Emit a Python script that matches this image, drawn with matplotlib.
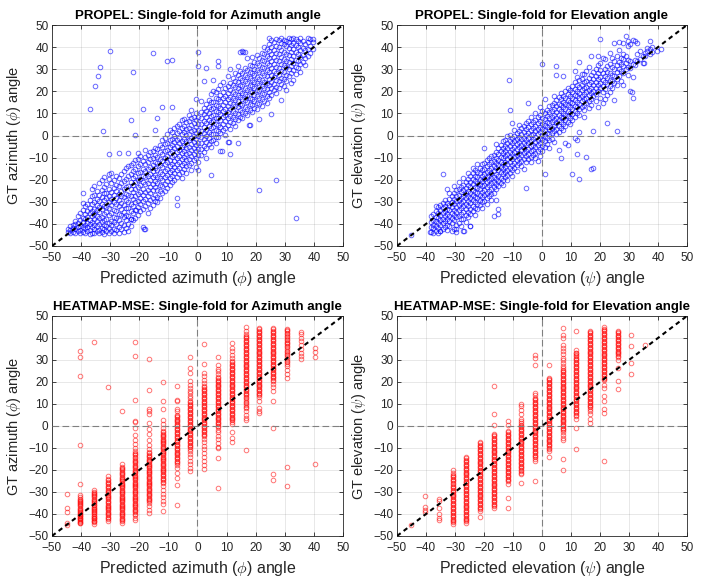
import matplotlib
matplotlib.use('Agg')
import matplotlib.pyplot as plt

plt.rcParams['font.family'] = ['Liberation Sans', 'DejaVu Sans']
plt.rcParams['mathtext.fontset'] = 'cm'

# axis range and ticks
lim = [-50, 50]
ticks = [-50, -40, -30, -20, -10, 0, 10, 20, 30, 40, 50]

# PROPEL azimuth: predicted value -> list of GT values
propel_az = {
    -44.6: [-43.8, -42.5],
    -43.7: [-44.2, -42.9, -41.0],
    -42.9: [-43.5, -41.8, -40.6],
    -42.1: [-44.0, -42.3, -40.1, -38.7],
    -41.2: [-43.1, -41.5, -39.6, -36.2],
    -40.4: [-44.3, -42.8, -40.9, -38.2, -35.0],
    -39.5: [-43.6, -41.2, -39.0, -37.4, -33.8, -30.5, -25.9],
    -38.8: [-44.1, -42.0, -40.3, -37.9, -35.6, -32.1],
    -37.9: [-43.2, -41.6, -39.4, -36.8, -34.0, -30.9],
    -37.1: [-44.4, -42.7, -40.0, -38.1, -35.2, -32.8, -29.4],
    -36.3: [-43.9, -41.3, -39.2, -36.5, -34.1, -31.0, -27.5, -24.0],
    -35.4: [-44.0, -42.2, -40.6, -38.0, -35.7, -33.3, -30.2, -26.8, -22.9],
    -34.6: [-43.4, -41.1, -38.9, -36.4, -33.9, -31.6, -28.8, -25.1],
    -33.8: [-44.2, -42.6, -40.2, -37.5, -34.8, -32.2, -29.7, -27.0, -21.5],
    -32.9: [-43.7, -41.9, -39.3, -36.9, -33.4, -30.8, -27.9, -24.6, -20.3],
    -32.1: [-44.5, -42.4, -40.7, -38.3, -35.5, -31.9, -29.1, -25.8, -23.2, -18.9],
    -31.3: [-43.0, -40.9, -37.8, -34.6, -32.5, -28.3, -26.1, -22.0],
    -30.4: [-44.1, -41.7, -39.5, -36.1, -33.0, -30.0, -27.3, -24.4, -19.6, -17.2, -8.4],
    -29.6: [-43.3, -40.4, -38.6, -35.0, -31.4, -28.7, -25.5, -21.3, -16.8],
    -28.8: [-44.0, -42.1, -39.0, -36.7, -33.8, -29.9, -26.9, -23.6, -20.0],
    -27.9: [-42.8, -40.1, -37.2, -34.3, -31.1, -28.2, -24.9, -22.5, -18.4],
    -27.1: [-43.9, -41.4, -38.2, -35.3, -32.0, -29.4, -26.3, -23.0, -19.1, -7.8],
    -26.3: [-42.5, -39.8, -36.0, -33.2, -30.4, -27.6, -25.0, -21.7, -17.6],
    -25.4: [-43.6, -40.7, -37.0, -34.5, -31.3, -28.0, -24.1, -20.6, -16.1],
    -24.6: [-41.9, -38.4, -35.8, -32.7, -29.0, -26.5, -23.3, -19.8, -14.9],
    -23.8: [-43.2, -39.9, -36.4, -33.0, -30.2, -27.1, -22.8, -18.5, -14.0, -8.1],
    -22.9: [-40.8, -37.6, -34.0, -30.9, -27.4, -24.3, -21.1, -17.3, -13.2, 7.0],
    -22.1: [-38.3, -35.1, -31.8, -28.9, -25.6, -22.4, -19.4, -16.2, -12.5, 28.7],
    -21.3: [-37.4, -33.7, -30.1, -27.2, -24.0, -21.0, -18.1, -15.0, -11.3, 0.3],
    -20.4: [-35.9, -32.4, -29.6, -26.4, -23.1, -20.3, -17.0, -13.9, -10.6, -7.8],
    -19.6: [-34.2, -31.2, -28.4, -25.7, -22.6, -19.5, -16.5, -12.8, -9.4],
    -18.8: [-41.6, -33.1, -29.8, -27.0, -24.2, -21.2, -18.3, -15.1, -11.7, 11.8],
    -17.9: [-42.2, -31.9, -28.6, -25.4, -22.0, -19.0, -16.0, -13.0, -9.9, -6.4],
    -17.1: [-35.0, -30.7, -27.5, -24.6, -21.4, -18.2, -15.3, -12.1, -8.6],
    -16.3: [-32.8, -29.3, -26.0, -23.2, -20.0, -17.2, -14.1, -10.8, -7.5],
    -15.4: [-31.5, -28.1, -24.8, -21.8, -18.7, -15.9, -13.3, -10.2, -6.9, 37.2],
    -14.6: [-29.5, -26.8, -23.5, -20.6, -17.7, -14.7, -11.9, -8.8, -5.6, 2.5],
    -13.8: [-30.3, -27.7, -24.5, -21.5, -18.6, -15.7, -12.6, -9.6, -6.2, 7.8],
    -12.9: [-28.5, -25.2, -22.2, -19.2, -16.4, -13.5, -10.5, -7.4, -4.1],
    -12.1: [-26.2, -23.0, -20.3, -17.4, -14.4, -11.5, -8.4, -5.3, -2.0, 13.0],
    -11.3: [-24.9, -21.9, -19.0, -16.1, -13.0, -10.1, -7.1, -4.0, -1.0],
    -10.4: [-23.6, -20.7, -17.8, -15.0, -12.2, -9.3, -6.5, -3.3, 0.5, 33.7],
    -9.6: [-22.4, -19.3, -16.6, -13.6, -10.9, -8.0, -5.1, -2.2, 2.5],
    -8.8: [-21.1, -18.2, -15.4, -12.7, -9.8, -7.0, -4.3, -1.5, 1.8, 12.7, 34.2],
    -7.9: [-20.0, -17.0, -14.3, -11.4, -8.7, -5.8, -3.0, -0.3, 3.2],
    -7.1: [-31.4, -28.4, -18.6, -15.8, -13.1, -10.3, -7.6, -4.8, -2.0, 1.0, 4.4],
    -6.3: [-17.6, -14.8, -12.0, -9.2, -6.4, -3.6, -0.9, 1.9, 5.3],
    -5.4: [-19.4, -16.3, -13.4, -10.7, -7.9, -5.0, -2.3, 0.6, 3.6, 6.8],
    -4.6: [-15.2, -12.5, -9.7, -7.0, -4.2, -1.4, 1.4, 4.3, 7.5],
    -3.8: [-17.0, -14.0, -11.1, -8.3, -5.6, -2.7, 0.2, 3.1, 6.0],
    -2.9: [-13.3, -10.6, -7.8, -5.0, -2.1, 0.8, 3.6, 6.5, 9.2],
    -2.1: [-15.8, -12.4, -9.4, -6.6, -3.8, -1.0, 1.9, 4.8, 8.0, 11.5],
    -1.3: [-11.2, -8.5, -5.7, -2.9, -0.1, 2.7, 5.5, 8.6],
    -0.4: [-14.1, -10.0, -7.2, -4.4, -1.6, 1.2, 4.0, 7.0, 10.3, 16.3],
    0.1: [-15.6, -12.0, -8.9, -6.0, -3.2, -0.4, 2.4, 5.3, 8.2, 31.6, 37.6],
    1.3: [-9.0, -6.2, -3.4, -0.6, 2.2, 5.0, 7.8, 10.7, 15.8],
    2.1: [-7.5, -4.6, -1.8, 1.0, 3.9, 6.7, 9.6, 12.5, 24.7],
    2.9: [-10.4, -5.8, -3.0, -0.2, 2.6, 5.5, 8.4, 11.2, 14.3, 30.7],
    3.8: [-4.0, -1.2, 1.6, 4.4, 7.2, 10.1, 13.0, 16.2],
    4.6: [-17.9, -5.2, -2.3, 0.5, 3.3, 6.1, 9.0, 11.9, 15.0, 18.6],
    5.4: [-1.9, 0.9, 3.7, 6.6, 9.4, 12.3, 15.3, 20.1, 25.1],
    6.3: [-3.3, -0.5, 2.3, 5.2, 8.0, 10.9, 13.8, 16.8, 19.5],
    7.1: [-0.8, 2.0, 4.8, 7.7, 10.5, 13.4, 16.4, 21.0, 31.6, 33.9],
    7.9: [-6.9, 1.0, 3.9, 6.8, 9.6, 12.5, 15.5, 18.3, 22.8],
    8.8: [2.6, 5.4, 8.3, 11.1, 14.0, 16.9, 19.9, 24.2],
    9.6: [0.4, 3.5, 6.5, 9.4, 12.2, 15.1, 18.0, 21.4],
    10.4: [-2.8, 4.9, 7.7, 10.6, 13.5, 16.3, 19.3, 22.3, 26.8],
    11.3: [-8.4, 3.0, 6.1, 9.0, 11.9, 14.8, 17.6, 20.6, 23.7, 30.1],
    12.1: [5.6, 8.4, 11.3, 14.2, 17.0, 19.9, 22.9, 25.9],
    12.9: [4.3, 7.4, 10.3, 13.2, 16.0, 18.9, 21.9, 24.8, 28.4],
    13.8: [-3.2, 6.9, 9.8, 12.7, 15.5, 18.4, 21.3, 24.3, 27.2, 31.4],
    14.6: [8.6, 11.5, 14.4, 17.3, 20.1, 23.0, 26.0, 29.1, 37.6],
    15.4: [7.9, 10.8, 13.6, 16.5, 19.4, 22.3, 25.2, 28.3, 38.3],
    16.3: [10.1, 13.0, 15.9, 18.7, 21.6, 24.5, 27.5, 30.6, 37.9],
    17.1: [9.2, 12.1, 15.0, 17.9, 20.8, 23.7, 26.7, 29.8, 34.9],
    17.9: [4.8, 11.4, 14.3, 17.2, 20.0, 22.9, 25.9, 28.9, 32.1],
    18.8: [10.7, 13.7, 16.6, 19.5, 22.4, 25.3, 28.3, 31.4, 35.6],
    19.6: [12.6, 15.5, 18.4, 21.3, 24.2, 27.2, 30.2, 33.3],
    20.4: [11.8, 14.8, 17.8, 20.7, 23.6, 26.6, 29.6, 32.8, 36.4],
    21.3: [-24.7, 7.4, 14.2, 17.1, 20.0, 22.9, 25.8, 28.8, 31.8, 35.0],
    22.1: [13.4, 16.4, 19.3, 22.2, 25.1, 28.1, 31.1, 34.2, 37.5],
    22.9: [15.6, 18.6, 21.5, 24.4, 27.4, 30.4, 33.5, 36.8, 40.1],
    23.8: [14.9, 17.9, 20.9, 23.8, 26.8, 29.8, 32.9, 36.1, 39.3],
    24.6: [16.9, 19.9, 22.8, 25.8, 28.8, 31.8, 34.9, 38.2, 41.5, 44.0],
    25.4: [9.8, 18.4, 21.4, 24.4, 27.4, 30.4, 33.5, 36.7, 40.0, 43.2],
    26.3: [20.4, 23.4, 26.4, 29.4, 32.5, 35.6, 38.8, 42.1],
    27.1: [-20.1, 19.1, 22.1, 25.1, 28.1, 31.2, 34.3, 37.5, 40.7, 43.6],
    27.9: [21.6, 24.6, 27.6, 30.7, 33.8, 37.0, 40.2, 43.0],
    28.8: [15.9, 23.2, 26.2, 29.3, 32.4, 35.5, 38.7, 41.8, 44.2],
    29.6: [22.5, 25.5, 28.6, 31.7, 34.8, 38.0, 41.2, 43.4],
    30.4: [20.8, 24.5, 27.6, 30.8, 33.9, 37.1, 40.4, 42.9],
    31.3: [26.9, 30.0, 33.2, 36.4, 39.6, 42.4, 44.1],
    32.1: [23.6, 28.3, 31.4, 34.6, 37.8, 41.0, 43.7],
    32.9: [25.2, 29.7, 32.9, 36.1, 39.3, 42.0, 44.3],
    33.8: [-37.2, 27.8, 31.0, 34.3, 37.6, 40.8, 43.5],
    34.6: [30.5, 33.7, 36.9, 40.1, 42.6],
    35.4: [28.9, 32.3, 35.6, 38.9, 41.9, 44.0],
    36.3: [33.2, 36.5, 39.7, 42.8],
    37.1: [32.0, 35.3, 38.5, 41.4],
    37.9: [36.0, 39.2, 42.3, 44.1],
    38.8: [37.4, 40.6, 43.8],
    39.6: [39.0, 42.5, 43.9],
}
propel_az_out = {
    -29.9: [38.3], -33.6: [31.2], -34.3: [26.8], -35.2: [22.6], -37.0: [12.1],
    -32.3: [2.2], -18.4: [-42.2], 15.8: [37.9], 17.6: [4.9], 10.7: [-2.8],
    8.5: [-6.9], -21.0: [-33.7], -22.7: [-38.0],
}

# PROPEL elevation
propel_el = {
    -38.3: [-43.6, -41.2, -39.0, -36.5],
    -37.5: [-44.1, -42.0, -40.3, -38.2, -35.6],
    -36.7: [-43.3, -40.8, -38.8, -36.9, -34.1, -31.7],
    -35.9: [-44.3, -41.9, -39.6, -37.3, -35.2, -32.5],
    -35.1: [-43.0, -40.5, -38.4, -36.0, -33.6, -31.3],
    -34.3: [-42.2, -39.7, -37.6, -35.0, -32.8, -30.4, -17.4],
    -33.5: [-41.5, -38.9, -36.6, -34.3, -31.9, -29.4],
    -32.7: [-42.8, -40.3, -37.9, -35.5, -33.1, -30.7, -24.2],
    -31.9: [-41.0, -38.5, -36.2, -33.8, -31.4, -28.9, -26.1],
    -31.1: [-43.4, -39.8, -37.2, -34.9, -32.4, -30.0, -27.6],
    -30.3: [-42.1, -38.3, -35.9, -33.5, -31.1, -28.6, -25.9, -22.8],
    -29.5: [-43.8, -40.6, -37.0, -34.6, -32.2, -29.8, -27.3, -24.7],
    -28.7: [-39.4, -36.3, -33.9, -31.5, -29.1, -26.7, -24.0, -21.2],
    -27.9: [-41.1, -38.0, -35.3, -32.9, -30.5, -28.1, -25.6, -23.1],
    -27.1: [-43.2, -37.6, -34.4, -32.0, -29.6, -27.2, -24.8, -22.3, -19.4],
    -26.3: [-39.0, -35.8, -33.2, -30.8, -28.4, -26.0, -23.6, -21.0],
    -25.5: [-37.1, -34.5, -32.1, -29.7, -27.3, -24.9, -22.5, -19.9, -16.8],
    -24.7: [-41.0, -35.6, -33.1, -30.7, -28.3, -25.9, -23.5, -21.1, -18.2],
    -23.9: [-34.2, -31.7, -29.3, -26.9, -24.5, -22.1, -19.7, -17.0, -14.5],
    -23.1: [-36.0, -32.8, -30.3, -27.9, -25.5, -23.1, -20.7, -18.3, -15.6],
    -22.3: [-33.4, -30.9, -28.5, -26.1, -23.7, -21.3, -18.9, -16.4, -13.0],
    -21.5: [-31.6, -29.1, -26.7, -24.3, -21.9, -19.5, -17.1, -14.7],
    -20.7: [-32.7, -30.2, -27.8, -25.4, -23.0, -20.6, -18.2, -15.8, -12.9],
    -19.9: [-29.6, -27.1, -24.7, -22.3, -19.9, -17.5, -15.1, -12.4, -5.8],
    -19.1: [-30.8, -28.3, -25.9, -23.5, -21.1, -18.7, -16.3, -13.9, -11.0],
    -18.3: [-27.4, -25.0, -22.6, -20.2, -17.8, -15.4, -13.0, -10.3],
    -17.5: [-29.0, -26.5, -24.1, -21.7, -19.3, -16.9, -14.5, -12.0, -9.2],
    -16.7: [-36.2, -25.9, -23.4, -21.0, -18.6, -16.2, -13.8, -11.4, -8.7],
    -15.9: [-29.3, -24.4, -22.0, -19.6, -17.2, -14.8, -12.4, -10.0, -7.3, -3.9],
    -15.1: [-35.4, -33.4, -22.9, -20.5, -18.1, -15.7, -13.3, -10.9, -8.5, -5.6],
    -14.3: [-21.5, -19.1, -16.7, -14.3, -11.9, -9.5, -7.1, -4.2],
    -13.5: [-22.6, -20.0, -17.6, -15.2, -12.8, -10.4, -8.0, -5.5, -2.7],
    -12.7: [-19.0, -16.6, -14.2, -11.8, -9.4, -7.0, -4.6, -1.9],
    -11.9: [-20.3, -17.8, -15.4, -13.0, -10.6, -8.2, -5.8, -3.3, -0.4],
    -11.1: [-16.9, -14.5, -12.1, -9.7, -7.3, -4.9, -2.5, 0.3, 11.4],
    -10.3: [-18.2, -15.6, -13.2, -10.8, -8.4, -6.0, -3.6, -1.1, 5.6],
    -9.5: [-14.7, -12.3, -9.9, -7.5, -5.1, -2.7, -0.2, 2.4],
    -8.7: [-16.1, -13.5, -11.1, -8.7, -6.3, -3.9, -1.5, 1.1],
    -7.9: [-12.6, -10.2, -7.8, -5.4, -3.0, -0.6, 2.0, 4.6],
    -7.1: [-14.0, -11.4, -9.0, -6.6, -4.2, -1.8, 0.7, 3.3],
    -6.3: [-15.3, -10.5, -8.1, -5.7, -3.3, -0.9, 1.6, 4.2],
    -5.5: [-23.9, -12.2, -9.3, -6.9, -4.5, -2.1, 0.4, 2.9, 5.8],
    -4.7: [-10.8, -8.4, -6.0, -3.6, -1.2, 1.3, 3.8, 6.7, 14.6],
    -3.9: [-12.0, -9.6, -7.2, -4.8, -2.4, 0.1, 2.6, 5.2, 8.3],
    -3.1: [-8.9, -6.5, -4.1, -1.7, 0.8, 3.3, 5.9],
    -2.3: [-10.1, -7.7, -5.3, -2.9, -0.5, 2.0, 4.5, 7.2, 10.4],
    -1.5: [-11.7, -6.8, -4.4, -2.0, 0.5, 3.0, 5.5, 8.3],
    -0.7: [-9.1, -5.9, -3.5, -1.1, 1.4, 3.9, 6.5, 9.4, 12.7],
    0.1: [-7.2, -4.7, -2.2, 0.3, 2.8, 5.3, 8.0, 11.3, 32.2],
    0.9: [-17.4, -5.0, -2.6, -0.1, 2.4, 4.9, 7.5, 10.2, 16.4],
    1.7: [-3.8, -1.3, 1.2, 3.7, 6.2, 8.8, 11.6],
    2.5: [-5.6, -2.0, 0.6, 3.1, 5.6, 8.1, 10.7, 13.5],
    3.3: [-1.5, 1.0, 3.5, 6.0, 8.5, 11.1, 13.9],
    4.1: [-3.1, 2.0, 4.5, 7.0, 9.5, 12.0, 14.7, 17.9],
    4.9: [0.6, 3.1, 5.6, 8.1, 10.6, 13.2, 16.0, 27.4, 31.4],
    5.7: [-6.6, 1.8, 4.3, 6.8, 9.3, 11.8, 14.4, 17.3],
    6.5: [-10.0, 3.6, 6.1, 8.6, 11.1, 13.6, 16.3, 19.4],
    7.3: [2.7, 5.2, 7.7, 10.2, 12.7, 15.3, 18.1, 26.9],
    8.1: [-3.3, 4.4, 6.9, 9.4, 11.9, 14.4, 17.0, 20.0],
    8.9: [-4.4, 6.2, 8.7, 11.2, 13.7, 16.2, 18.9, 21.6],
    9.7: [5.3, 7.8, 10.3, 12.8, 15.3, 17.9, 20.8],
    10.5: [-17.4, 7.1, 9.6, 12.1, 14.6, 17.1, 19.7, 22.6],
    11.3: [-1.0, 8.5, 11.0, 13.5, 16.0, 18.5, 21.2, 24.0, 29.1],
    12.1: [-8.4, -2.0, 10.2, 12.7, 15.2, 17.7, 20.3, 23.0, 26.3],
    12.9: [-19.8, 1.5, 9.3, 11.8, 14.3, 16.8, 19.4, 22.1, 25.2, 33.1],
    13.7: [12.9, 15.4, 17.9, 20.4, 23.0, 25.7, 28.0],
    14.5: [8.3, 11.4, 13.9, 16.4, 19.0, 21.6, 24.3, 27.9],
    15.3: [-9.9, 14.5, 17.0, 19.5, 22.1, 24.7, 29.0],
    16.1: [12.6, 15.8, 18.3, 20.8, 23.4, 26.1, 31.1],
    16.9: [-15.3, 14.0, 16.6, 19.1, 21.7, 24.3, 27.2, 36.1],
    17.7: [-14.6, 2.0, 17.8, 20.3, 22.9, 25.6, 28.7],
    18.5: [15.4, 18.9, 21.5, 24.2, 26.9, 30.0],
    19.3: [13.0, 20.2, 22.8, 25.5, 28.3, 31.8, 35.8],
    20.1: [17.2, 21.3, 23.9, 26.6, 29.5, 33.0, 43.5],
    20.9: [14.8, 19.7, 22.6, 25.3, 28.1, 35.3],
    21.7: [16.5, 21.0, 24.0, 27.0, 30.2, 34.6],
    22.5: [5.8, 18.4, 23.1, 25.9, 28.8, 31.6],
    23.3: [19.6, 22.4, 25.2, 28.3, 32.5, 37.5],
    24.1: [21.5, 24.5, 27.4, 30.9, 34.9],
    24.9: [16.0, 23.8, 26.8, 29.9, 33.6, 42.0],
    25.7: [2.0, 22.7, 25.4, 28.6, 31.8, 36.2],
    26.5: [27.0, 30.1, 33.3, 38.6, 42.3],
    27.3: [24.6, 29.1, 32.4, 35.1],
    28.1: [22.8, 28.3, 31.5, 34.4, 37.0, 41.9],
    28.9: [29.9, 33.0, 36.0, 44.9],
    29.7: [27.4, 31.2, 34.0, 40.5, 42.6],
    30.5: [20.3, 30.5, 33.6, 41.2],
    31.3: [16.8, 26.6, 32.4, 43.4],
    32.1: [31.8, 34.3, 42.8],
    32.9: [33.6, 36.8, 41.9],
    33.7: [34.5, 38.3],
    34.7: [32.9, 36.0],
    35.5: [35.8, 37.4],
    36.3: [38.1, 39.6],
    37.1: [36.9, 39.0, 42.9],
    38.0: [37.6, 40.1],
    39.7: [38.4],
}
propel_el_out = {
    -45.2: [-45.0], -38.5: [-43.8], -35.0: [-43.1], -29.7: [-42.5], -26.8: [-43.2],
    -24.8: [-41.0], -11.4: [25.0], 31.0: [19.9], 35.2: [33.0], 41.2: [39.0],
}

# HEATMAP-MSE azimuth: bin centre -> GT values (scattered part)
heatmap_az = {
    -45.0: [-31.0, -37.1, -39.0, -44.2, -45.0],
    -40.3: [34.0, 31.2, 22.7, -8.6, -26.5, -31.2, -32.4, -33.5, -34.6, -35.6, -36.5, -37.6,
            -38.5, -39.4, -40.3, -41.1, -42.0, -42.8, -43.6, -44.3],
    -35.5: [38.2, -28.9, -29.9, -31.0, -32.0, -33.1, -34.2, -35.2, -36.1, -37.2, -38.2, -39.1,
            -40.2, -41.1, -42.0, -43.0, -43.8, -44.4],
    -30.8: [17.7, -22.8, -24.0, -25.3, -26.5, -27.6, -28.9, -30.1, -31.2, -32.3, -33.4, -34.5,
            -35.7, -36.8, -37.9, -39.0, -40.1, -41.2, -42.3, -43.2],
    -26.1: [7.0, -17.3, -18.5, -19.6, -20.8, -21.9, -23.0, -24.1, -25.2, -26.3, -27.3, -28.4,
            -29.5, -30.5, -31.6, -32.6, -33.7, -34.7, -35.8, -36.8, -37.9, -38.9, -40.0, -41.0,
            -42.1, -43.1, -44.2],
    -21.3: [38.3, 31.6, 12.0, 2.4, 1.7, -0.7, -3.9, -6.2, -8.4, -10.2, -11.5, -12.8, -14.1,
            -15.3, -16.5, -17.6, -18.8, -19.9, -21.0, -22.1, -23.2, -24.2, -25.3, -26.3, -27.4,
            -28.4, -29.5, -30.5, -31.6, -32.6, -33.7, -34.8, -35.9, -37.0, -38.1, -39.3, -40.5,
            -41.7, -42.8],
    -16.6: [30.5, 16.5, 7.5, 6.7, 5.5, 1.4, -1.3, -3.8, -6.3, -8.7, -10.6, -12.5, -13.7, -14.9,
            -16.0, -17.1, -18.2, -19.3, -20.4, -21.5, -22.6, -23.7, -24.8, -25.9, -27.0, -28.1,
            -29.2, -30.3, -31.4, -32.6, -33.8, -35.0, -36.4, -38.0, -39.6],
    -11.8: [20.2, 11.3, 7.6, 2.5, 0.7, -1.1, -2.4, -3.5, -4.6, -5.7, -6.8, -7.9, -9.0, -10.1,
            -11.2, -12.3, -13.4, -14.5, -15.6, -16.7, -17.8, -18.9, -20.0, -21.1, -22.3, -23.5,
            -24.7, -26.0, -27.4, -29.1, -30.8, -32.5, -34.2, -35.6, -38.7],
    -7.1: [18.4, 12.0, 11.2, 7.9, 6.6, 5.2, 4.0, 2.8, 1.6, 0.4, -0.8, -2.0, -3.2, -4.4, -5.6,
           -6.8, -8.0, -9.2, -10.4, -11.6, -12.8, -14.0, -15.2, -16.4, -17.6, -19.3, -21.5,
           -23.8, -26.6, -35.7],
    -2.4: [31.3, 26.3, 24.0, 20.5, 18.8, 17.3, 16.1, 14.9, 13.7, 12.5, 11.3, 10.1, 8.9, 7.7,
           6.5, 5.3, 4.1, 2.9, 1.7, 0.5, -0.7, -1.9, -3.1, -4.3, -5.5, -6.7, -7.9, -9.1, -10.3,
           -11.5, -12.7, -14.2, -15.8, -17.4, -18.9, -20.5],
    2.4: [37.3, 28.3, 24.0, 22.6, 21.0, 19.4, 18.1, 16.9, 15.7, 14.5, 13.3, 12.1, 10.9, 9.7,
          8.5, 7.3, 6.1, 4.9, 3.7, 2.5, 1.3, 0.1, -1.1, -2.3, -3.5, -4.7, -5.9, -7.3, -8.9,
          -10.6, -12.3, -14.1, -16.0, -17.8, -19.5],
    7.1: [31.4, 27.9, 26.0, 24.8, 23.5, 22.3, 21.1, 19.9, 18.7, 17.5, 16.3, 15.1, 13.9, 12.7,
          11.5, 10.3, 9.1, 7.9, 6.7, 5.5, 4.3, 3.1, 1.9, 0.7, -0.5, -1.7, -2.9, -4.4, -6.0,
          -7.6, -9.6, -10.0, -14.4, -28.4],
    11.8: [37.5, 35.5, 33.9, 32.3, 30.9, 29.6, 28.3, 27.1, 25.9, 24.7, 23.5, 22.3, 21.1, 19.9,
           18.7, 17.5, 16.3, 15.1, 13.9, 12.7, 11.5, 10.3, 9.1, 7.9, 6.7, 5.5, 4.3, 3.1, 1.9,
           0.9, -2.6, -5.6, -7.5],
    16.6: [44.8, 43.1, 41.6, 40.4, 39.2, 38.0, 36.8, 35.6, 34.4, 33.2, 32.0, 30.8, 29.6, 28.4,
           27.2, 26.0, 24.8, 23.6, 22.4, 21.2, 20.0, 18.8, 17.6, 16.4, 15.2, 14.0, 12.6, 11.1,
           9.5, 8.1, 6.8, 5.0, 3.6, 2.8, -10.7],
    21.3: [44.5, 43.3, 42.1, 40.9, 39.7, 38.5, 37.3, 36.1, 34.9, 33.7, 32.5, 31.3, 30.1, 28.9,
           27.7, 26.5, 25.3, 24.1, 22.9, 21.7, 20.5, 19.3, 18.1, 16.9, 15.7, 14.5, 13.2, 11.4,
           8.3, 6.9, 6.0],
    26.1: [44.5, 43.3, 42.1, 40.9, 39.7, 38.5, 37.3, 36.1, 34.9, 33.7, 32.5, 31.3, 30.1, 28.9,
           27.7, 26.5, 25.3, 24.1, 22.9, 21.7, 20.5, 19.2, 17.6, 16.1, 11.2, -1.1, -21.6, -24.7],
    30.8: [44.3, 43.0, 41.7, 40.4, 39.1, 37.8, 36.4, 35.0, 33.6, 32.1, 30.5, 28.9, 27.1, 25.3,
           23.5, 21.9, -18.7, -27.2],
    35.5: [42.9, 41.6, 40.2, 38.6, 36.8, 35.0, 33.4, 31.9, 30.5],
    40.3: [35.5, 33.5, 31.4, -17.2],
}
# HEATMAP-MSE azimuth: the solid core of each column
heatmap_az_core = {
    -40.3: [-33.0, -34.1, -35.1, -36.0, -37.1, -38.0, -39.0, -39.9, -40.7, -41.6, -42.4, -43.2,
            -43.9],
    -35.5: [-30.4, -31.5, -32.5, -33.6, -34.7, -35.7, -36.6, -37.7, -38.7, -39.6, -40.7, -41.6,
            -42.5, -43.4],
    -30.8: [-24.6, -25.9, -27.1, -28.2, -29.5, -30.6, -31.7, -32.8, -33.9, -35.1, -36.2, -37.3,
            -38.4, -39.5, -40.6, -41.7],
    -26.1: [-19.0, -20.2, -21.4, -22.5, -23.6, -24.6, -25.7, -26.8, -27.8, -28.9, -30.0, -31.1,
            -32.1, -33.2, -34.2, -35.3, -36.3, -37.4, -38.4, -39.5, -40.5, -41.6, -42.6],
    -21.3: [-12.1, -13.4, -14.7, -15.9, -17.0, -18.2, -19.3, -20.4, -21.5, -22.6, -23.7, -24.7,
            -25.8, -26.8, -27.9, -28.9, -30.0, -31.0, -32.1, -33.2, -34.3, -35.3, -36.5, -37.6,
            -38.7, -39.9],
    -16.6: [-12.0, -13.1, -14.3, -15.4, -16.5, -17.6, -18.7, -19.8, -20.9, -22.0, -23.1, -24.2,
            -25.3, -26.4, -27.5, -28.6, -29.7, -30.8, -31.9, -33.1, -34.3],
    -11.8: [-2.9, -4.0, -5.1, -6.2, -7.3, -8.4, -9.5, -10.6, -11.7, -12.8, -13.9, -15.0, -16.1,
            -17.2, -18.3, -19.4, -20.5, -21.6, -22.8, -24.0, -25.3],
    -7.1: [4.6, 3.4, 2.2, 1.0, -0.2, -1.4, -2.6, -3.8, -5.0, -6.2, -7.4, -8.6, -9.8, -11.0,
           -12.2, -13.4, -14.6, -15.8, -17.0],
    -2.4: [10.7, 9.5, 8.3, 7.1, 5.9, 4.7, 3.5, 2.3, 1.1, -0.1, -1.3, -2.5, -3.7, -4.9, -6.1,
           -7.3, -8.5, -9.7],
    2.4: [17.5, 16.3, 15.1, 13.9, 12.7, 11.5, 10.3, 9.1, 7.9, 6.7, 5.5, 4.3, 3.1, 1.9, 0.7,
          -0.5, -1.7, -2.9, -4.1],
    7.1: [21.7, 20.5, 19.3, 18.1, 16.9, 15.7, 14.5, 13.3, 12.1, 10.9, 9.7, 8.5, 7.3, 6.1, 4.9,
          3.7, 2.5, 1.3, 0.1],
    11.8: [29.0, 27.7, 26.5, 25.3, 24.1, 22.9, 21.7, 20.5, 19.3, 18.1, 16.9, 15.7, 14.5, 13.3,
           12.1, 10.9, 9.7, 8.5, 7.3, 6.1, 4.9, 3.7, 2.5],
    16.6: [40.9, 39.8, 38.6, 37.4, 36.2, 35.0, 33.8, 32.6, 31.4, 30.2, 29.0, 27.8, 26.6, 25.4,
           24.2, 23.0, 21.8, 20.6, 19.4, 18.2, 17.0, 15.8, 14.6, 13.3, 11.8, 10.3, 8.8],
    21.3: [43.9, 42.7, 41.5, 40.3, 39.1, 37.9, 36.7, 35.5, 34.3, 33.1, 31.9, 30.7, 29.5, 28.3,
           27.1, 25.9, 24.7, 23.5, 22.3, 21.1, 19.9, 18.7, 17.5, 16.3, 15.1, 13.9],
    26.1: [43.9, 42.7, 41.5, 40.3, 39.1, 37.9, 36.7, 35.5, 34.3, 33.1, 31.9, 30.7, 29.5, 28.3,
           27.1, 25.9, 24.7, 23.5, 22.3, 21.1],
    30.8: [43.6, 42.3, 41.0, 39.7, 38.4, 37.1, 35.7, 34.3, 32.8, 31.3, 29.7, 28.0],
}

# HEATMAP-MSE elevation (scattered part)
heatmap_el = {
    -45.0: [-45.0],
    -40.3: [-31.8, -36.8, -38.3, -38.9],
    -35.5: [-33.0, -34.0, -37.1, -40.1, -41.9, -42.9],
    -30.8: [-20.2, -21.5, -22.7, -24.0, -25.2, -26.5, -27.7, -28.9, -30.1, -31.3, -32.5, -33.7,
            -34.9, -36.1, -37.3, -38.5, -39.7, -40.9, -42.1, -43.3, -44.4],
    -26.1: [-14.1, -15.3, -16.5, -17.7, -18.9, -20.1, -21.3, -22.5, -23.7, -24.9, -26.1, -27.3,
            -28.5, -29.7, -30.9, -32.1, -33.3, -34.5, -35.7, -36.9, -38.1, -39.3, -40.5, -41.7,
            -42.9, -43.9],
    -21.3: [-7.3, -8.5, -9.7, -10.9, -12.1, -13.3, -14.5, -15.7, -16.9, -18.1, -19.3, -20.5,
            -21.7, -22.9, -24.1, -25.3, -26.5, -27.7, -28.9, -30.1, -31.3, -32.5, -33.7, -34.9,
            -36.1, -37.3, -38.6, -41.3],
    -16.6: [18.1, 5.6, 0.4, -3.5, -4.7, -5.9, -7.1, -8.3, -9.5, -10.7, -11.9, -13.1, -14.3,
            -15.5, -16.7, -17.9, -19.1, -20.3, -21.5, -22.7, -23.9, -25.1, -26.3, -27.5, -28.7,
            -29.9, -31.1, -32.3, -33.5, -34.7, -35.9, -37.1],
    -11.8: [2.2, 0.3, -2.3, -3.5, -4.7, -5.9, -7.1, -8.3, -9.5, -10.7, -11.9, -13.1, -14.3,
            -15.5, -16.7, -17.9, -19.1, -20.3, -21.5, -22.7, -23.9, -25.1, -26.5, -32.9, -37.1],
    -7.1: [9.8, 9.1, 7.4, 5.3, 3.3, 2.2, 1.2, 0.0, -1.2, -2.4, -3.6, -4.8, -6.0, -7.2, -8.4,
           -9.6, -10.8, -12.0, -13.2, -14.4, -15.6, -16.8, -18.0, -19.3, -20.6, -22.0, -25.8],
    -2.4: [32.4, 30.9, 27.9, 15.1, 14.0, 12.8, 11.6, 10.4, 9.2, 8.0, 6.8, 5.6, 4.4, 3.2, 2.0,
           0.8, -0.4, -1.6, -2.8, -4.0, -5.2, -6.4, -7.6, -8.8, -10.0, -11.2, -12.4, -13.6,
           -14.8, -16.0, -25.0],
    2.4: [27.5, 21.9, 20.7, 19.5, 18.3, 17.1, 15.9, 14.7, 13.5, 12.3, 11.1, 9.9, 8.7, 7.5, 6.3,
          5.1, 3.9, 2.7, 1.5, 0.3, -0.9, -2.1, -3.3, -4.5, -5.7, -6.9, -8.1, -9.3, -10.5,
          -11.4, -13.9],
    7.1: [44.4, 41.5, 40.0, 37.0, 35.5, 34.0, 32.5, 31.0, 29.8, 28.6, 27.4, 26.2, 25.0, 23.8,
          22.6, 21.4, 20.2, 19.0, 17.8, 16.6, 15.4, 14.2, 13.0, 11.8, 10.6, 9.4, 8.2, 7.0, 5.8,
          4.6, 3.4, 2.2, 1.0, -0.2, -1.4, -2.6, -3.9, -5.5, -6.5, -15.1, -20.2],
    11.8: [43.1, 34.6, 33.4, 32.2, 31.0, 29.8, 28.6, 27.4, 26.2, 25.0, 23.8, 22.6, 21.4, 20.2,
           19.0, 17.8, 16.6, 15.4, 14.2, 13.0, 11.8, 10.6, 9.4, 8.2, 7.0, 5.8, 4.6, 3.0, -1.1,
           -10.4],
    16.6: [43.3, 42.1, 40.9, 39.7, 38.5, 37.3, 36.1, 34.9, 33.7, 32.5, 31.3, 30.1, 28.9, 27.7,
           26.5, 25.3, 24.1, 22.9, 21.7, 20.5, 19.3, 18.1, 16.9, 15.7, 14.5, 13.3, 12.1, 10.9,
           9.7, 8.5, 7.0, 5.5, 3.0, 1.5],
    21.3: [44.8, 43.6, 42.4, 41.2, 40.0, 38.8, 37.6, 36.4, 35.2, 34.0, 32.8, 31.6, 30.4, 29.2,
           28.0, 26.8, 25.6, 24.4, 23.2, 22.0, 21.0, 18.8, 17.3, 13.5, 11.2, 7.5, 6.0, -16.0],
    26.1: [43.3, 42.1, 40.9, 39.7, 38.5, 37.3, 36.1, 34.9, 33.7, 32.5, 31.3, 30.2, 26.4, 20.3,
           16.8],
    30.8: [41.5, 36.2, 28.6, 23.6],
    35.5: [36.6],
}
# HEATMAP-MSE elevation: the solid core of each column
heatmap_el_core = {
    -30.8: [-22.1, -23.4, -24.6, -25.9, -27.1, -28.3, -29.5, -30.7, -31.9, -33.1, -34.3, -35.5,
            -36.7, -37.9, -39.1, -40.3, -41.5, -42.7, -43.8],
    -26.1: [-14.7, -15.9, -17.1, -18.3, -19.5, -20.7, -21.9, -23.1, -24.3, -25.5, -26.7, -27.9,
            -29.1, -30.3, -31.5, -32.7, -33.9, -35.1, -36.3, -37.5, -38.7, -39.9, -41.1, -42.3,
            -43.4],
    -21.3: [-7.9, -9.1, -10.3, -11.5, -12.7, -13.9, -15.1, -16.3, -17.5, -18.7, -19.9, -21.1,
            -22.3, -23.5, -24.7, -25.9, -27.1, -28.3, -29.5, -30.7, -31.9, -33.1, -34.3, -35.5,
            -36.7, -37.9],
    -16.6: [-4.1, -5.3, -6.5, -7.7, -8.9, -10.1, -11.3, -12.5, -13.7, -14.9, -16.1, -17.3,
            -18.5, -19.7, -20.9, -22.1, -23.3, -24.5, -25.7, -26.9, -28.1, -29.3, -30.5, -31.7,
            -32.9, -34.1, -35.3, -36.5],
    -11.8: [-2.9, -4.1, -5.3, -6.5, -7.7, -8.9, -10.1, -11.3, -12.5, -13.7, -14.9, -16.1, -17.3,
            -18.5, -19.7, -20.9, -22.1, -23.3, -24.5],
    -7.1: [0.6, -0.6, -1.8, -3.0, -4.2, -5.4, -6.6, -7.8, -9.0, -10.2, -11.4, -12.6, -13.8,
           -15.0, -16.2, -17.4, -18.6, -19.9, -21.3],
    -2.4: [12.2, 11.0, 9.8, 8.6, 7.4, 6.2, 5.0, 3.8, 2.6, 1.4, 0.2, -1.0, -2.2, -3.4, -4.6,
           -5.8, -7.0, -8.2, -9.4, -10.6, -11.8, -13.0, -14.2],
    2.4: [21.3, 20.1, 18.9, 17.7, 16.5, 15.3, 14.1, 12.9, 11.7, 10.5, 9.3, 8.1, 6.9, 5.7, 4.5,
          3.3, 2.1, 0.9, -0.3, -1.5, -2.7, -3.9, -5.1, -6.3, -7.5, -8.7, -9.9],
    7.1: [25.6, 24.4, 23.2, 22.0, 20.8, 19.6, 18.4, 17.2, 16.0, 14.8, 13.6, 12.4, 11.2, 10.0,
          8.8, 7.6, 6.4, 5.2, 4.0, 2.8, 1.6, 0.4, -0.8, -2.0],
    11.8: [33.0, 31.6, 30.4, 29.2, 28.0, 26.8, 25.6, 24.4, 23.2, 22.0, 20.8, 19.6, 18.4, 17.2,
           16.0, 14.8, 13.6, 12.4, 11.2, 10.0, 8.8, 7.6, 6.4, 5.2],
    16.6: [42.7, 41.5, 40.3, 39.1, 37.9, 36.7, 35.5, 34.3, 33.1, 31.9, 30.7, 29.5, 28.3, 27.1,
           25.9, 24.7, 23.5, 22.3, 21.1, 19.9, 18.7, 17.5, 16.3, 15.1, 13.9, 12.7, 11.5, 10.3,
           9.1, 7.9],
    21.3: [44.2, 43.0, 41.8, 40.6, 39.4, 38.2, 37.0, 35.8, 34.6, 33.4, 32.2, 31.0, 29.8, 28.6,
           27.4, 26.2, 25.0, 23.8, 22.6, 21.5],
    26.1: [42.7, 41.5, 40.3, 39.1, 37.9, 36.7, 35.5, 34.3, 33.1, 31.9],
}


def flatten(*tables):
    xs, ys = [], []
    for cols in tables:
        for x, vals in cols.items():
            for v in vals:
                xs.append(x)
                ys.append(v)
    return xs, ys


def draw_panel(ax, x, y, color, alpha, title, xlabel, ylabel):
    ax.plot(x, y, 'o', ls='none', ms=3.3, mfc='none', mec=color, mew=0.7, alpha=alpha, zorder=2)
    ax.axhline(0, color='0.5', lw=0.8, dashes=(6, 3), zorder=3)
    ax.axvline(0, color='0.5', lw=0.8, dashes=(6, 3), zorder=3)
    ax.plot(lim, lim, color='k', lw=1.5, dashes=(2.2, 1.8), zorder=4)
    ax.set_xlim(lim)
    ax.set_ylim(lim)
    ax.set_xticks(ticks)
    ax.set_yticks(ticks)
    ax.grid(True, color='0.15', alpha=0.12, lw=0.6)
    ax.set_axisbelow(True)
    ax.tick_params(direction='in', top=True, right=True, length=3, width=0.6,
                   color='0.15', labelcolor='0.15', labelsize=8.5)
    ax.tick_params(axis='x', pad=4)
    ax.tick_params(axis='y', pad=2.5)
    for s in ax.spines.values():
        s.set_color('0.15')
        s.set_linewidth(0.6)
    ax.set_title(title, fontsize=9.5, fontweight='bold', pad=4)
    ax.set_xlabel(xlabel, fontsize=11.5, color='0.15', labelpad=4)
    ax.set_ylabel(ylabel, fontsize=10.5, color='0.15', labelpad=4)


fig = plt.figure(figsize=(7.13, 5.78), dpi=100)
ax1 = fig.add_axes([0.0729, 0.5744, 0.4081, 0.3823])
ax2 = fig.add_axes([0.5568, 0.5744, 0.4067, 0.3823])
ax3 = fig.add_axes([0.0729, 0.0727, 0.4081, 0.3806])
ax4 = fig.add_axes([0.5568, 0.0727, 0.4067, 0.3806])

x, y = flatten(propel_az, propel_az_out)
draw_panel(ax1, x, y, 'blue', 0.6, 'PROPEL: Single-fold for Azimuth angle',
           r'Predicted azimuth ($\phi$) angle', r'GT azimuth ($\phi$) angle')
x, y = flatten(propel_el, propel_el_out)
draw_panel(ax2, x, y, 'blue', 0.6, 'PROPEL: Single-fold for Elevation angle',
           r'Predicted elevation ($\psi$) angle', r'GT elevation ($\psi$) angle')
x, y = flatten(heatmap_az, heatmap_az_core)
draw_panel(ax3, x, y, 'red', 0.55, 'HEATMAP-MSE: Single-fold for Azimuth angle',
           r'Predicted azimuth ($\phi$) angle', r'GT azimuth ($\phi$) angle')
x, y = flatten(heatmap_el, heatmap_el_core)
draw_panel(ax4, x, y, 'red', 0.55, 'HEATMAP-MSE: Single-fold for Elevation angle',
           r'Predicted elevation ($\psi$) angle', r'GT elevation ($\psi$) angle')

fig.savefig('out.png', dpi=100)
